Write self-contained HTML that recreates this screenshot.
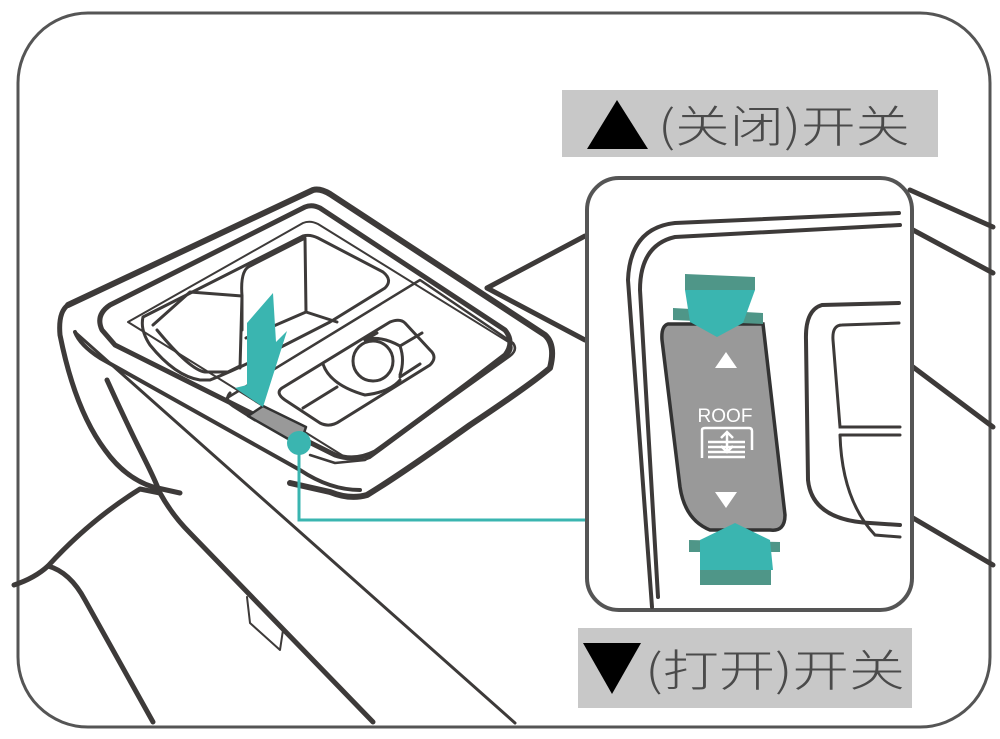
<!DOCTYPE html>
<html><head><meta charset="utf-8"><style>
html,body{margin:0;padding:0;background:#fff;}
svg{display:block}
</style></head><body>
<svg width="1000" height="739" viewBox="0 0 1000 739" xmlns="http://www.w3.org/2000/svg">
<rect x="18" y="13" width="972" height="714" rx="70" fill="#fff" stroke="#555" stroke-width="3"/>
<g fill="none" stroke="#3d3a39" stroke-linecap="round" stroke-linejoin="round">
<!-- background lines -->
<path d="M14 585 Q35 578 48 566 Q90 520 140 489 L160 493" stroke-width="5"/>
<path d="M48 566 Q70 572 85 600 L153 722" stroke-width="5"/>
<path d="M107 380 Q125 420 145 460 Q155 480 160 493 Q172 515 190 533 L373 722" stroke-width="5"/>
<path d="M76 333 L515 723" stroke-width="3"/>
<path d="M247 597 L250 623 L280 650 L283 630" stroke-width="2"/>
<path d="M487 288 L585 236" stroke-width="5"/>
<path d="M487 288 L585 340" stroke-width="5"/>
<!-- console outer -->
<path d="M68 305 Q58 312 60 335 Q75 410 105 450 Q125 478 153 487 L180 493" stroke-width="5"/>
<path d="M68 305 L313 190 Q320 188 330 194 L545 335 Q556 345 550 368 Q530 385 470 425 Q400 475 367 495 Q350 500 330 492 L290 483" stroke-width="6"/>
<path d="M75 332 Q80 345 100 358 L300 470 Q330 490 360 490" stroke-width="4"/>
<path d="M102 330 Q95 315 110 305 L305 207 Q312 204 320 208 L505 330 Q515 342 505 355 Q440 405 375 452 Q355 462 335 455 L115 345 Z" stroke-width="5"/>
<path d="M128 322 L303 223 Q310 220 318 224 L510 343 Q515 350 505 358 L370 458 Q358 463 345 457 Z" stroke-width="2"/>
<!-- cup holder area -->
<path d="M143 317 L303 236 Q310 234 318 238 L383 272 Q393 280 385 288 L330 322 L285 345 Q240 368 210 380 L200 380 Q175 376 150 345 Q140 330 143 317 Z" stroke-width="3"/>
<path d="M153 325 L190 292 L242 296 L242 330" stroke-width="3"/>
<path d="M242 296 Q240 270 250 266 L305 238 L306 312 L337 322" stroke-width="3"/>
<path d="M242 296 L240 368" stroke-width="3"/>
<path d="M157 330 Q190 370 205 372 L228 372 L240 366" stroke-width="3"/>
<path d="M306 312 L246 338" stroke-width="3"/>
<!-- switch panel -->
<path d="M227 398 L420 280 L513 343 Q518 350 510 356 L365 460 L335 463 L310 455" stroke-width="2.5"/>
<path d="M230 393 Q224 400 233 406 L255 420" stroke-width="3"/>
<path d="M282 388 Q275 393 285 400 L320 423 Q330 428 340 421 L430 365 Q438 357 430 350 L405 323 Q400 318 390 322 Z" stroke-width="3"/>
<circle cx="373" cy="361" r="20" stroke-width="3"/>
<path d="M323 364 Q330 385 365 395 Q390 392 400 380" stroke-width="3"/>
<path d="M365 340 Q380 335 400 346 Q405 360 400 375" stroke-width="3"/>
<path d="M303 408 L337 387 M400 346 L422 333 M400 377 L420 364 M365 340 L377 333" stroke-width="3"/>
</g>
<polygon points="248,416 263,406 306,427 303,436 290,440" fill="#999" stroke="#333" stroke-width="2.5" stroke-linejoin="round"/>
<polygon points="273,293 276,342 287,331 263,407 235,388 247,385 247,323" fill="#3ab5b0"/>
<!-- connector -->
<path d="M299 443 L299 520 L585 520" fill="none" stroke="#3ab5b0" stroke-width="3"/>
<circle cx="299" cy="443" r="12" fill="#3ab5b0"/>
<!-- inset lines right -->
<g fill="none" stroke="#3d3a39" stroke-width="5" stroke-linecap="round">
<path d="M910 190 L993 227"/><path d="M913 230 L993 273"/><path d="M913 367 L993 427"/><path d="M913 518 L993 565"/>
</g>
<!-- inset -->
<rect x="587" y="178" width="325" height="432" rx="32" fill="#fff" stroke="#555" stroke-width="4"/>
<g fill="none" stroke="#3d3a39" stroke-linecap="round">
<path d="M899 213 L675 223 Q630 228 628 280 L652 607" stroke-width="4"/>
<path d="M900 225 L675 237 Q640 245 640 290 L658 597" stroke-width="4"/>
<path d="M899 303 L822 305 Q805 310 806 340 L808 480 Q812 520 870 523 L900 525" stroke-width="4"/>
<path d="M899 323 L842 325 Q832 325 833 340 L840 427 L900 427" stroke-width="3"/>
<path d="M840 435 L900 435 M840 435 Q842 500 875 535 L900 537" stroke-width="3"/>
</g>
<path d="M668 324 L763 324 L785 515 Q785 532 770 530 L710 530 Q685 520 680 487 L662 340 Q661 326 668 324 Z" fill="#999" stroke="#333" stroke-width="3.5"/>
<!-- arrows -->
<polygon points="685,274 755,277 755,290 685,290" fill="#4f9688"/>
<polygon points="673,308 763,313 763,324 673,320" fill="#4f9688"/>
<polygon points="685,290 755,290 743,323 717,337 690,322" fill="#3ab5b0"/>
<polygon points="689,540 780,542 780,552 689,552" fill="#4f9688"/>
<polygon points="735,523 770,540 773,570 700,570 700,540" fill="#3ab5b0"/>
<polygon points="700,570 771,570 771,585 700,585" fill="#4f9688"/>
<polygon points="715,368 737,368 726,352" fill="#fff"/>
<polygon points="715,492 737,492 726,508" fill="#fff"/>
<text x="725" y="422" font-family="Liberation Sans, sans-serif" font-size="19" fill="#fff" text-anchor="middle">ROOF</text>
<g fill="none" stroke="#fff" stroke-width="2.5">
<path d="M702 458 L702 430 Q702 428 705 428 L749 428 Q752 428 752 431 L752 450"/>
<path d="M708 442 L745 442 M708 447 L745 447 M708 452 L745 452 M708 457 L745 457"/>
<path d="M727 432 L727 452 M721 438 L727 432 L733 438 M721 446 L727 452 L733 446"/>
</g>
<!-- labels -->
<rect x="562" y="90" width="376" height="67" fill="#c8c8c8"/>
<polygon points="587,149 648,149 617,100" fill="#000"/>
<text x="658" y="142" font-family="'Noto Sans CJK SC', sans-serif" font-size="44" font-weight="300" fill="#4a4a4a" textLength="252" lengthAdjust="spacingAndGlyphs">(关闭)开关</text>
<rect x="578" y="628" width="334" height="80" fill="#c8c8c8"/>
<polygon points="583,643 641,643 612,694" fill="#000"/>
<text x="645" y="686" font-family="'Noto Sans CJK SC', sans-serif" font-size="44" font-weight="300" fill="#4a4a4a" textLength="260" lengthAdjust="spacingAndGlyphs">(打开)开关</text>
</svg>
</body></html>
